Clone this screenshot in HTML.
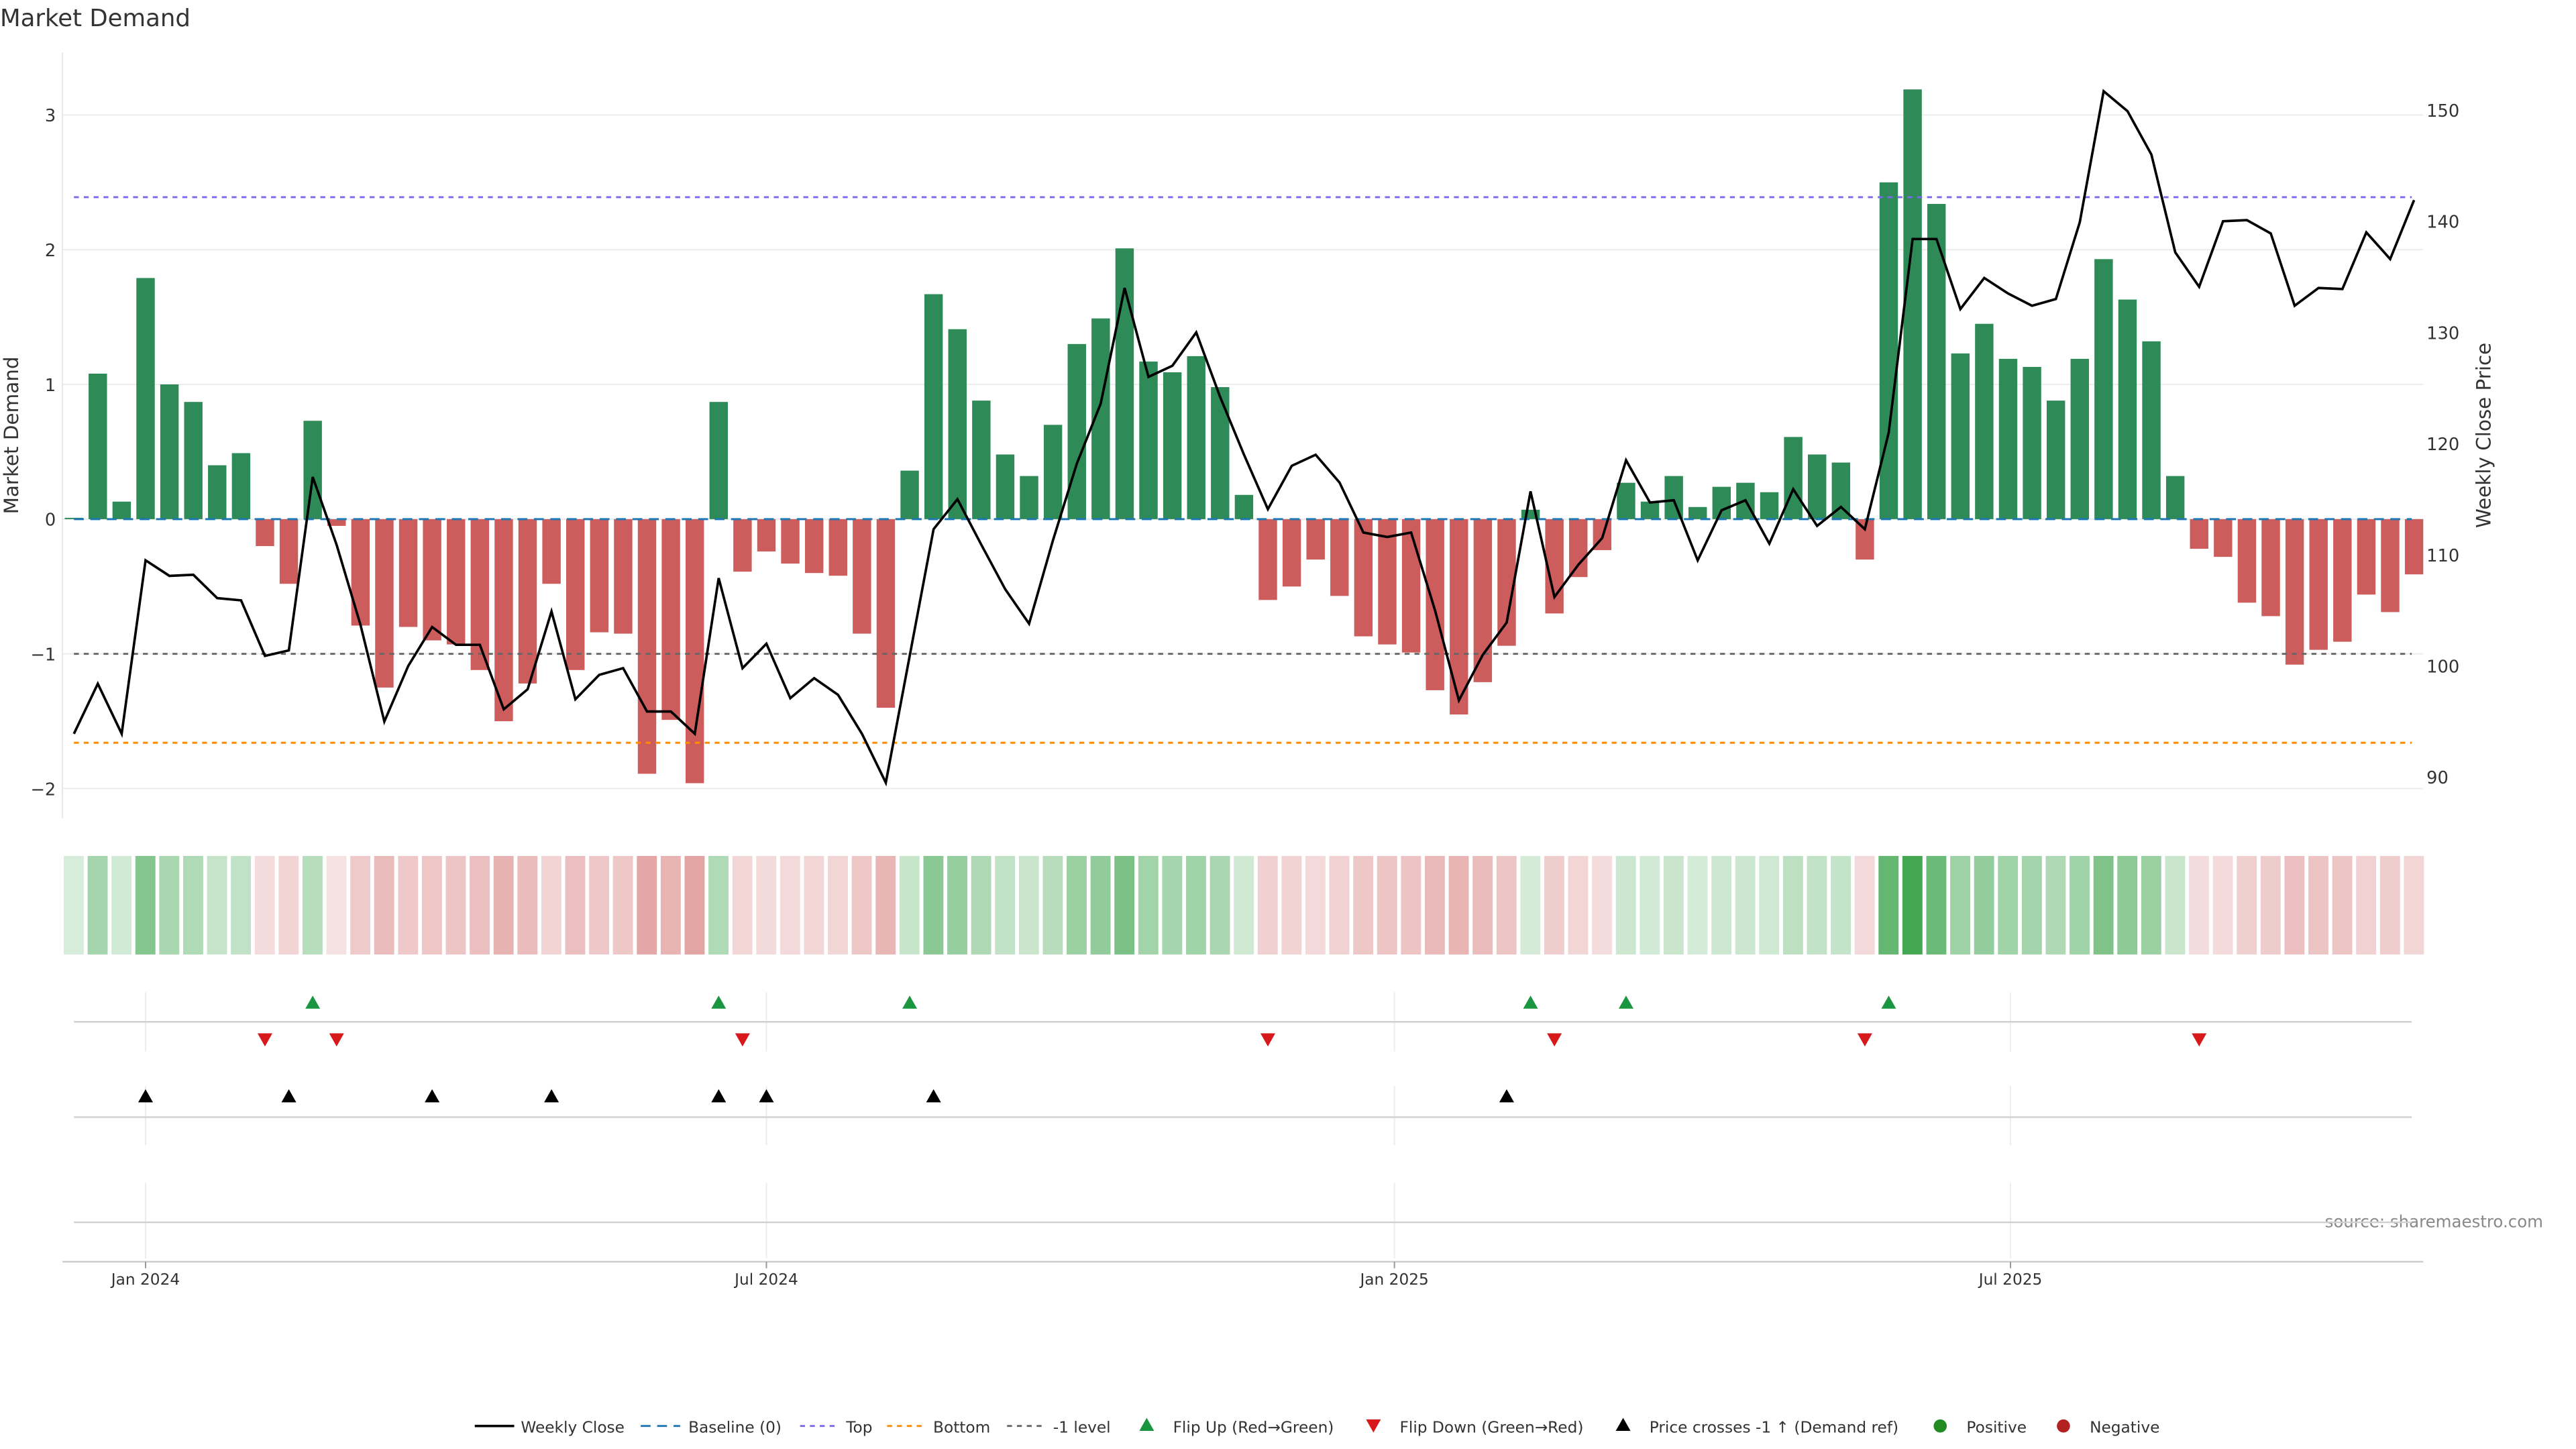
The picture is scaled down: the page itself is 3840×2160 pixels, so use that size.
<!DOCTYPE html>
<html><head><meta charset="utf-8"><title>Market Demand</title>
<style>
html,body{margin:0;padding:0;background:#fff;}
svg{display:block;font-family:"DejaVu Sans","Liberation Sans",sans-serif;}
</style></head>
<body>
<svg id="chart" xmlns="http://www.w3.org/2000/svg" width="3840" height="2160" viewBox="0 0 1568 882" preserveAspectRatio="none">
<text x="0" y="16" font-size="14.5" fill="#333">Market Demand</text>
<text transform="translate(11,265) rotate(-90)" text-anchor="middle" font-size="12" fill="#333">Market Demand</text>
<text transform="translate(1516,265) rotate(-90)" text-anchor="middle" font-size="12" fill="#333">Weekly Close Price</text>
<text x="1548" y="747" text-anchor="end" font-size="10" fill="#888">source: sharemaestro.com</text>
<g id="g"></g>
</svg>
<script>
const demand=[0.01,1.08,0.13,1.79,1.0,0.87,0.40,0.49,-0.20,-0.48,0.73,-0.05,-0.79,-1.25,-0.80,-0.90,-0.93,-1.12,-1.50,-1.22,-0.48,-1.12,-0.84,-0.85,-1.89,-1.49,-1.96,0.87,-0.39,-0.24,-0.33,-0.40,-0.42,-0.85,-1.40,0.36,1.67,1.41,0.88,0.48,0.32,0.70,1.30,1.49,2.01,1.17,1.09,1.21,0.98,0.18,-0.60,-0.50,-0.30,-0.57,-0.87,-0.93,-0.99,-1.27,-1.45,-1.21,-0.94,0.07,-0.70,-0.43,-0.23,0.27,0.13,0.32,0.09,0.24,0.27,0.20,0.61,0.48,0.42,-0.30,2.50,3.19,2.34,1.23,1.45,1.19,1.13,0.88,1.19,1.93,1.63,1.32,0.32,-0.22,-0.28,-0.62,-0.72,-1.08,-0.97,-0.91,-0.56,-0.69,-0.41];
const price=[93.9,98.4,93.9,109.5,108.1,108.2,106.1,105.9,100.9,101.4,117.0,110.9,103.7,95.0,100.0,103.5,101.9,101.9,96.1,97.9,104.9,97.0,99.2,99.8,95.9,95.9,93.9,107.9,99.8,102.0,97.1,98.9,97.4,93.9,89.5,100.9,112.3,115.0,110.9,106.9,103.8,111.3,118.2,123.6,134.0,126.0,127.0,130.0,124.2,119.0,114.1,118.0,119.0,116.5,112.0,111.6,112.0,105.0,96.9,101.0,103.9,115.7,106.2,109.1,111.5,118.5,114.7,114.9,109.5,114.0,114.9,111.0,115.9,112.6,114.3,112.3,121.0,138.4,138.4,132.1,134.9,133.5,132.4,133.0,139.9,151.7,149.9,146.0,137.2,134.1,140.0,140.1,138.9,132.4,134.0,133.9,139.0,136.6,141.9];
const flipUp=[10,27,35,61,65,76];
const flipDown=[8,11,28,50,62,75,89];
const priceCross=[3,9,15,20,27,29,36,60];
const leftTicks=[3,2,1,0,-1,-2];
const rightTicks=[150,140,130,120,110,100,90];
const dateTicks=[{label:"Jan 2024",week:3},{label:"Jul 2024",week:29},{label:"Jan 2025",week:55.3},{label:"Jul 2025",week:81.1}];
const levelTop=2.39, levelBottom=-1.66, levelMinus1=-1;

const NS="http://www.w3.org/2000/svg";
const g=document.getElementById('g');
function el(t,a,p){const e=document.createElementNS(NS,t);for(const k in a)e.setAttribute(k,a[k]);(p||g).appendChild(e);return e;}
const xS=i=>45+i*14.535;
const yL=v=>316-v*82;
const yR=p=>67+(150-p)*6.767;
const X0=38,X1=1475;

leftTicks.forEach(v=>{
  const l=el('line',{x1:X0,x2:X1,y1:yL(v),y2:yL(v),stroke:'#ececec','stroke-width':0.8});
  
  
  const t=el('text',{x:34,y:yL(v)+4,'text-anchor':'end','font-size':10.5,fill:'#333'});
  t.textContent=v<0?'\u2212'+Math.abs(v):String(v);
  
  
});
rightTicks.forEach(p=>{
  const t=el('text',{x:1477,y:yR(p)+4,'font-size':10.5,fill:'#333'});
  t.textContent=p;
  
  
});
el('line',{x1:X0,x2:X0,y1:32,y2:498,stroke:'#e6e6e6','stroke-width':0.8});

demand.forEach((v,i)=>{
  const y=Math.min(yL(v),yL(0)),h=Math.abs(yL(v)-yL(0));
  const r=el('rect',{x:xS(i)-5.6,y:y,width:11.2,height:Math.max(h,0.5),fill:v>=0?'#2e8b57':'#cd5c5c'});
  
  
});
const refs=[[0,'#1f77b4','6,4','baseline-line'],[levelTop,'#7b68ee','3,3','top-level-line'],[levelBottom,'#ff8c00','3,3','bottom-level-line'],[levelMinus1,'#666','3,3','minus1-level-line']];
refs.forEach(r=>{
  const l=el('line',{x1:45,x2:1468,y1:yL(r[0]),y2:yL(r[0]),stroke:r[1],'stroke-width':1.2,'stroke-dasharray':r[2]});
  
  
});
const pl=el('polyline',{points:price.map((p,i)=>xS(i)+','+yR(p)).join(' '),fill:'none',stroke:'#000','stroke-width':1.5,'stroke-linejoin':'miter'});



demand.forEach((v,i)=>{
  const a=Math.min(1,0.2+0.75*Math.abs(v)/3.2);
  const c=v>=0?`rgba(58,163,74,${a})`:`rgba(205,92,92,${a*0.85})`;
  const r=el('rect',{x:xS(i)-6.2,y:521,width:12.2,height:60,fill:c});
  
  
});

[[604,640,622],[661,697,680],[720,766,744]].forEach(p=>{
  dateTicks.forEach(d=>el('line',{x1:xS(d.week),x2:xS(d.week),y1:p[0],y2:p[1],stroke:'#ececec','stroke-width':0.8}));
  el('line',{x1:45,x2:1468,y1:p[2],y2:p[2],stroke:'#d0d0d0','stroke-width':1});
});
function tri(x,y,up,fill,name){
  const pts=up?`${x-4.5},${y+4} ${x+4.5},${y+4} ${x},${y-4}`:`${x-4.5},${y-4} ${x+4.5},${y-4} ${x},${y+4}`;
  const t=el('polygon',{points:pts,fill:fill});
  
  
}
flipUp.forEach(i=>tri(xS(i),610,true,'#1a9641','flip-up-marker'));
flipDown.forEach(i=>tri(xS(i),633,false,'#d7191c','flip-down-marker'));
priceCross.forEach(i=>tri(xS(i),667,true,'#000','price-cross-marker'));

el('line',{x1:X0,x2:X1,y1:768,y2:768,stroke:'#ccc','stroke-width':1});
dateTicks.forEach(d=>{
  el('line',{x1:xS(d.week),x2:xS(d.week),y1:768,y2:772,stroke:'#999','stroke-width':0.8});
  const t=el('text',{x:xS(d.week),y:782,'text-anchor':'middle','font-size':9.5,fill:'#333'});
  t.textContent=d.label;
  
  
});

const LY=868;
function legText(x,s){const t=el('text',{x:x,y:LY+4,'font-size':9.5,fill:'#333'});t.textContent=s;}
function legLine(x,c,d,w){const l=el('line',{x1:x,x2:x+24,y1:LY,y2:LY,stroke:c,'stroke-width':w||1.2,'stroke-dasharray':d||'none'});}
legLine(289,'#000',null,1.5);legText(317,'Weekly Close');
legLine(390,'#1f77b4','6,4');legText(419,'Baseline (0)');
legLine(487,'#7b68ee','3,3');legText(515,'Top');
legLine(540,'#ff8c00','3,3');legText(568,'Bottom');
legLine(613,'#666','3,3');legText(641,'-1 level');
tri(698,LY-1,true,'#1a9641','legend-entry');legText(714,'Flip Up (Red\u2192Green)');
tri(836,LY,false,'#d7191c','legend-entry');legText(852,'Flip Down (Green\u2192Red)');
tri(988,LY-1,true,'#000','legend-entry');legText(1004,'Price crosses -1 \u2191 (Demand ref)');
let c1=el('circle',{cx:1181,cy:LY,r:4,fill:'#228b22'});legText(1197,'Positive');
let c2=el('circle',{cx:1256,cy:LY,r:4,fill:'#b22222'});legText(1272,'Negative');
</script>
</body></html>
